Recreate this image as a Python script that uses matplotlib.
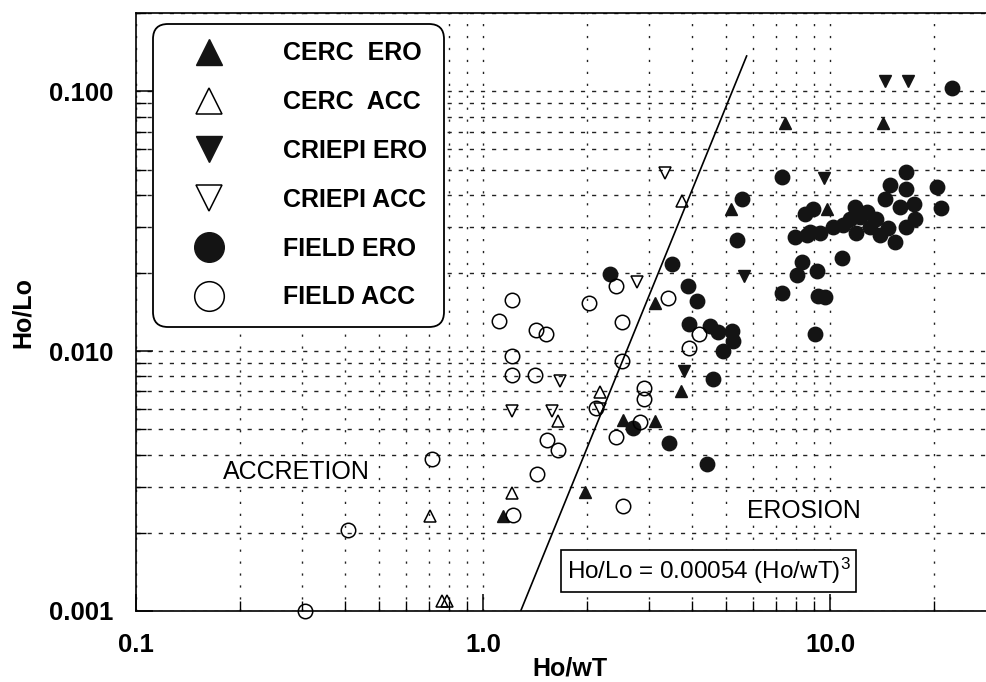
import matplotlib
matplotlib.use("Agg")
import matplotlib.pyplot as plt
from matplotlib.ticker import FixedLocator, NullFormatter

plt.rcParams['font.family'] = ['Liberation Sans', 'DejaVu Sans']
plt.rcParams['mathtext.fontset'] = 'custom'
plt.rcParams['mathtext.rm'] = 'Liberation Sans'
plt.rcParams['mathtext.it'] = 'Liberation Sans'
plt.rcParams['mathtext.bf'] = 'Liberation Sans:bold'

# ---------------- data ----------------
cerc_ero_x = [7.41, 14.2, 5.17, 9.78, 3.14, 3.72, 2.54, 3.13, 1.97, 1.14]
cerc_ero_y = [0.0755, 0.0755, 0.0353, 0.0354, 0.0153, 0.0070, 0.00545, 0.0054, 0.00288, 0.00232]

cerc_acc_x = [3.75, 2.18, 1.64, 1.21, 0.703, 0.760, 0.786]
cerc_acc_y = [0.0379, 0.00695, 0.0054, 0.00284, 0.00232, 0.00109, 0.00109]

criepi_ero_x = [14.4, 16.8, 9.61, 5.65, 3.80]
criepi_ero_y = [0.110, 0.110, 0.0465, 0.0195, 0.00841]

criepi_acc_x = [3.35, 2.77, 1.67, 1.21, 1.58, 2.17]
criepi_acc_y = [0.0484, 0.0184, 0.0077, 0.0059, 0.0059, 0.0060]

field_ero_x = [2.32, 3.50, 3.90, 4.13, 3.93, 4.51, 4.77, 5.21, 5.26, 4.92,
               2.71, 4.61, 3.44, 4.43, 5.59, 5.38, 7.27, 22.4, 16.6, 20.3,
               20.9, 10.8, 8.29, 9.17, 8.02, 7.27, 9.23, 9.67, 9.05, 8.47,
               8.93, 7.93, 8.57, 8.76, 9.36, 10.2, 10.9, 11.4, 11.8, 12.2,
               11.9, 12.8, 13.6, 13.0, 13.9, 14.7, 15.4, 14.4, 14.9, 16.6,
               15.9, 17.4, 17.6, 16.6]
field_ero_y = [0.0199, 0.0217, 0.0178, 0.01557, 0.01275, 0.01256, 0.01184, 0.0120, 0.01099, 0.0100,
               0.00506, 0.00782, 0.00445, 0.00367, 0.0387, 0.0267, 0.0467, 0.103, 0.0491, 0.0430,
               0.0357, 0.0229, 0.0221, 0.0204, 0.0196, 0.0168, 0.01635, 0.01616, 0.01166, 0.0339,
               0.0354, 0.0275, 0.0279, 0.0288, 0.0284, 0.0301, 0.0305, 0.0324, 0.0360, 0.0329,
               0.0284, 0.0344, 0.0324, 0.0301, 0.0279, 0.0297, 0.0264, 0.0387, 0.0436, 0.0423,
               0.0360, 0.0370, 0.0324, 0.0301]

field_acc_x = [0.307, 0.409, 0.711, 1.22, 1.21, 1.11, 1.42, 1.52, 2.02, 2.41,
               2.52, 1.21, 1.21, 1.41, 1.53, 1.64, 1.43, 2.54, 2.42, 2.52,
               2.12, 2.91, 2.91, 2.83, 3.42, 4.19, 3.92]
field_acc_y = [0.001, 0.00205, 0.00384, 0.00235, 0.0157, 0.0131, 0.0121, 0.01166, 0.01532, 0.0179,
               0.01294, 0.0096, 0.00807, 0.00807, 0.00454, 0.00415, 0.00338, 0.00254, 0.00466, 0.0092,
               0.00606, 0.00722, 0.00654, 0.00536, 0.0160, 0.01166, 0.0103]

# boundary line (end points)
line_x = [1.284, 5.75]
line_y = [0.001, 0.137]

x_ticks = [0.1, 1.0, 10.0]
x_tick_labels = ["0.1", "1.0", "10.0"]
y_ticks = [0.001, 0.01, 0.1]
y_tick_labels = ["0.001", "0.010", "0.100"]

x_label = "Ho/wT"
y_label = "Ho/Lo"
formula = "Ho/Lo = 0.00054 (Ho/wT)$^3$"

# ---------------- figure ----------------
W, H = 987, 682
fig = plt.figure(figsize=(W / 100, H / 100), dpi=100)
fig.patch.set_facecolor("white")
ax_left, ax_right, ax_top, ax_bot = 136, 995.6, 13.3, 611
ax = fig.add_axes([ax_left / W, 1 - ax_bot / H, (ax_right - ax_left) / W, (ax_bot - ax_top) / H])
ax.set_xscale("log")
ax.set_yscale("log")
ax.set_xlim(0.1, 30)
ax.set_ylim(0.001, 0.2)

dark = "#141414"
ms_c = 10.4
ms_t = 9.0
common = dict(linestyle="none", clip_on=False, zorder=5)

ax.plot(cerc_ero_x, cerc_ero_y, marker="^", ms=ms_t, mfc=dark, mec=dark, mew=1.0, label="CERC  ERO", **common)
ax.plot(cerc_acc_x, cerc_acc_y, marker="^", ms=ms_t, mfc="none", mec="black", mew=1.1, label="CERC  ACC", **common)
ax.plot(criepi_ero_x, criepi_ero_y, marker="v", ms=ms_t, mfc=dark, mec=dark, mew=1.0, label="CRIEPI ERO", **common)
ax.plot(criepi_acc_x, criepi_acc_y, marker="v", ms=ms_t, mfc="none", mec="black", mew=1.1, label="CRIEPI ACC", **common)
ax.plot(field_ero_x, field_ero_y, marker="o", ms=ms_c, mfc=dark, mec=dark, mew=1.0, label="FIELD ERO", **common)
ax.plot(field_acc_x, field_acc_y, marker="o", ms=ms_c, mfc="none", mec="black", mew=1.1, label="FIELD ACC", **common)

ax.plot(line_x, line_y, color="black", lw=1.2, zorder=4)

# grid
ax.xaxis.grid(True, which="both", color="#222222", lw=1.0, linestyle=(0, (1.6, 7.0)))
ax.yaxis.grid(True, which="both", color="#222222", lw=1.0, linestyle=(0, (3.0, 5.0)))
ax.set_axisbelow(True)

# ticks
ax.xaxis.set_major_locator(FixedLocator(x_ticks))
ax.set_xticklabels(x_tick_labels)
ax.yaxis.set_major_locator(FixedLocator(y_ticks))
ax.set_yticklabels(y_tick_labels)
ax.xaxis.set_minor_formatter(NullFormatter())
ax.yaxis.set_minor_formatter(NullFormatter())
ax.tick_params(which="major", direction="in", length=12, width=1.1, pad=16,
               labelsize=18.5, top=False, right=False)
ax.tick_params(which="minor", direction="in", length=7, width=1.0, top=False, right=False)
for lab in ax.get_xticklabels() + ax.get_yticklabels():
    lab.set_fontweight("bold")

for side in ["left", "bottom", "top"]:
    ax.spines[side].set_linewidth(1.2)
    ax.spines[side].set_color("black")
ax.spines["right"].set_visible(False)

# axis labels
ax.set_xlabel(x_label, fontsize=18, fontweight="bold")
ax.xaxis.set_label_coords((570 - ax_left) / (ax_right - ax_left), -(668 - ax_bot) / (ax_bot - ax_top))
ax.xaxis.label.set_verticalalignment("center")
ax.set_ylabel(y_label, fontsize=18, fontweight="bold")
ax.yaxis.set_label_coords(-(ax_left - 23) / (ax_right - ax_left), 0.5)
ax.yaxis.label.set_verticalalignment("center")

# region texts
ax.text(0.29, 0.00342, "ACCRETION", ha="center", va="center", fontsize=18, zorder=3,
        bbox=dict(fc="white", ec="none", pad=1.5))
ax.text(8.41, 0.00242, "EROSION", ha="center", va="center", fontsize=17.8, zorder=3,
        bbox=dict(fc="white", ec="none", pad=1.5))
ax.text(4.47, 0.00143, formula, ha="center", va="center", fontsize=17.5, zorder=6,
        bbox=dict(boxstyle="square,pad=0.24", fc="white", ec="black", lw=1.2))

# legend
leg = ax.legend(loc="upper left", bbox_to_anchor=(152.7 / W, 1 - 24 / H),
                bbox_transform=fig.transFigure, borderaxespad=0,
                prop=dict(family="Liberation Sans", weight="bold", size=18),
                markerscale=2.05, handlelength=3.13, handletextpad=1.37,
                borderpad=0.7, labelspacing=0.99, handleheight=0.7,
                fancybox=True, framealpha=1.0, edgecolor="black", facecolor="white")
leg.get_frame().set_boxstyle("round,pad=0,rounding_size=0.6")
leg.get_frame().set_linewidth(1.3)
leg.set_zorder(10)

fig.savefig("out.png", dpi=100, facecolor="white")
